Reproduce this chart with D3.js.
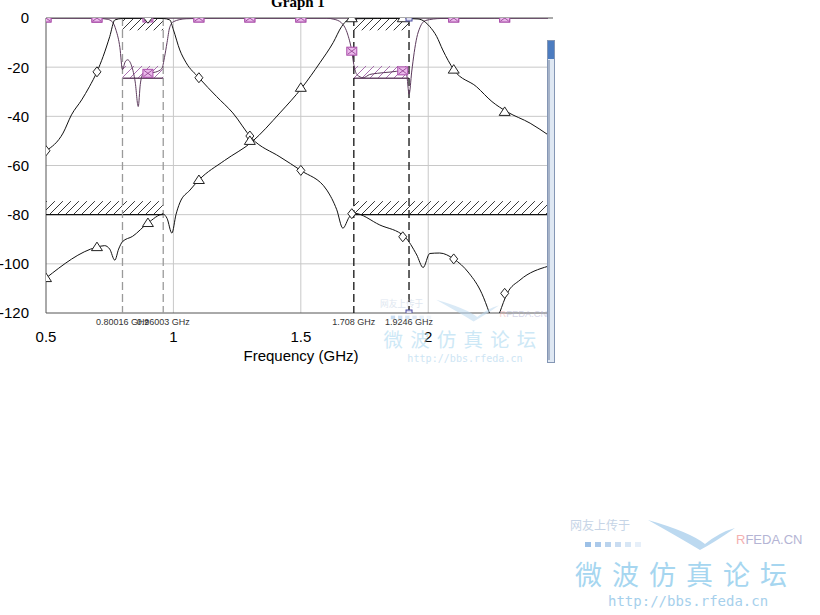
<!DOCTYPE html>
<html><head><meta charset="utf-8">
<script src="https://cdn.jsdelivr.net/npm/d3@7"></script>
<style>body{margin:0;background:#fff;}svg{display:block;}</style>
</head><body>
<svg id="c" width="820" height="615"></svg>
<script>
// ---------- DATA ----------
const xTicks = [0.5, 1, 1.5, 2];
const xTickLabels = ["0.5", "1", "1.5", "2"];
const yTicks = [0, -20, -40, -60, -80, -100, -120];
const yTickLabels = ["0", "-20", "-40", "-60", "-80", "-100", "-120"];

// S21 filter 1 (diamonds)
const s21aFreq = [0.5,0.567,0.6,0.64,0.67,0.7,0.724,0.75,0.77,0.8,0.88,0.96,0.986,1.0,1.025,1.05,1.1,1.17,1.233,1.308,1.418,1.5,1.602,1.641,1.665,1.69,1.708,1.81,1.908,1.955,1.98,2.006,2.045,2.1,2.16,2.21,2.24,2.26,2.28,2.31,2.36,2.47];
const s21aDb   = [-54,-46.8,-39.4,-33.3,-28,-21.9,-15.7,-7.6,-0.8,-0.2,-0.1,-0.2,-0.8,-4.8,-13,-18.2,-24.3,-32,-38.6,-49,-56.5,-62,-70,-78,-85.5,-81,-79.4,-84.2,-89,-96.4,-101.5,-95.8,-95.6,-98,-103.8,-112,-120,-126,-120,-112,-106.6,-101];
// S21 filter 2 (triangles)
const s21bFreq = [0.5,0.7,0.73,0.75,0.77,0.785,0.8,0.84,0.9,0.96,0.975,0.994,1.01,1.025,1.065,1.1,1.2,1.308,1.418,1.504,1.575,1.627,1.66,1.685,1.71,1.8,1.9,1.96,1.975,2.006,2.033,2.057,2.1,2.19,2.25,2.31,2.4,2.47];
const s21bDb   = [-105.8,-93.2,-92.6,-94,-98.5,-94,-91,-88.8,-83.4,-79.8,-81.5,-87.5,-80,-75.2,-70,-65.9,-58,-50.4,-38.6,-28.4,-18.2,-10,-3.5,-0.8,-0.3,-0.2,-0.2,-0.4,-0.8,-3.5,-7.5,-13,-21,-28,-34,-38.2,-42.8,-47.5];
// S11 filter 1
const s11aFreq = [0.5,0.7,0.74,0.76,0.775,0.79,0.8,0.81,0.82,0.836,0.85,0.862,0.87,0.88,0.9,0.93,0.955,0.965,0.975,0.985,1.0,1.05,1.2,2.47];
const s11aDb   = [0,-0.1,-0.5,-1.5,-5,-12,-21,-18,-17,-19.5,-26,-36,-27,-23,-22.5,-22,-20.5,-16,-10,-4,-1.5,-0.3,0,0];
// S11 filter 2
const s11bFreq = [0.5,1.6,1.63,1.66,1.685,1.7,1.708,1.72,1.745,1.77,1.8,1.85,1.9,1.915,1.925,1.935,1.945,1.955,1.967,1.99,2.05,2.47];
const s11bDb   = [0,-0.1,-0.5,-2,-7,-13.5,-19,-23,-24.3,-23,-22.5,-22,-21.5,-23,-31,-22,-14,-8,-4,-1,-0.2,0];

// markers
const markerFreq   = [0.5,0.7,0.9,1.1,1.3,1.5,1.7,1.9,2.1,2.3];
const s21aMarkerDb = [-54,-21.9,-0.1,-24.3,-48,-62,-79.6,-89,-98,-112];
const s21bMarkerDb = [-105.8,-93.2,-83.4,-65.9,-50,-28.4,-0.1,-0.1,-21,-38.2];
const s11aMarkerDb = [0,-0.1,-22.5,0,0,0,null,null,0,0];
const s11bMarkerDb = [0,0,0,0,0,0,-13.5,-21.5,0,0];

// frequency markers (dashed lines)
const fMarkFreq  = [0.80016, 0.96003, 1.708, 1.9246];
const fMarkLabel = ["0.80016 GHz", "0.96003 GHz", "1.708 GHz", "1.9246 GHz"];

// goal boxes: freq start, freq end, edge dB, far dB
const goalF0   = [0.80016, 0.80016, 1.708, 1.708, 0.5, 1.708];
const goalF1   = [0.96003, 0.96003, 1.9246, 1.9246, 0.96003, 2.47];
const goalEdge = [0, -24.5, 0, -24.5, -80, -80];
const goalFar  = [-5, -19.5, -5, -19.5, -74.5, -74.5];
const goalKind = ["s21", "s11", "s21", "s11", "s21", "s21"];

// ---------- CHART ----------
const svg = d3.select("#c");
const L = 46, R = 548, T = 18, B = 313;
const x = d3.scaleLinear().domain([0.5, 2.47]).range([L, R]);
const y = d3.scaleLinear().domain([-120, 0]).range([B, T]);

const defs = svg.append("defs");
defs.append("clipPath").attr("id", "plot").append("rect")
  .attr("x", L).attr("y", T).attr("width", R - L).attr("height", B - T);
function hatch(id, color) {
  defs.append("pattern").attr("id", id).attr("patternUnits", "userSpaceOnUse")
    .attr("width", 8).attr("height", 8)
    .append("path").attr("d", "M-2,2 L2,-2 M0,8 L8,0 M6,10 L10,6")
    .attr("stroke", color).attr("stroke-width", 0.9);
}
hatch("h21", "#222");
hatch("h11", "#a060a8");

// grid
svg.append("g").selectAll("line").data(yTicks.filter(d => d !== 0 && d !== -120)).join("line")
  .attr("x1", L).attr("x2", R).attr("y1", d => y(d)).attr("y2", d => y(d))
  .attr("stroke", "#c8c8c8").attr("stroke-width", 1);
svg.append("g").selectAll("line").data(xTicks.filter(d => d !== 0.5)).join("line")
  .attr("x1", d => x(d)).attr("x2", d => x(d)).attr("y1", T).attr("y2", B)
  .attr("stroke", "#c8c8c8").attr("stroke-width", 1);

// frame
svg.append("line").attr("x1", L).attr("x2", 553).attr("y1", y(0)).attr("y2", y(0)).attr("stroke", "#555");
svg.append("line").attr("x1", L).attr("x2", L).attr("y1", T).attr("y2", B).attr("stroke", "#555");
svg.append("line").attr("x1", L).attr("x2", R).attr("y1", B).attr("y2", B).attr("stroke", "#555");

const plot = svg.append("g").attr("clip-path", "url(#plot)");

// goal boxes
goalF0.forEach((f0, i) => {
  const top = Math.max(goalEdge[i], goalFar[i]), bot = Math.min(goalEdge[i], goalFar[i]);
  plot.append("rect").attr("x", x(f0)).attr("width", x(goalF1[i]) - x(f0))
    .attr("y", y(top)).attr("height", y(bot) - y(top))
    .attr("fill", goalKind[i] === "s11" ? "url(#h11)" : "url(#h21)");
  plot.append("line").attr("x1", x(f0)).attr("x2", x(goalF1[i]))
    .attr("y1", y(goalEdge[i])).attr("y2", y(goalEdge[i]))
    .attr("stroke", goalKind[i] === "s11" ? "#6a4a6a" : (goalEdge[i] === 0 ? "#22224a" : "#111"))
    .attr("stroke-width", 1.3);
});

// dashed frequency markers
plot.selectAll(".fm").data(fMarkFreq).join("line")
  .attr("x1", d => x(d)).attr("x2", d => x(d)).attr("y1", y(0)).attr("y2", y(-120))
  .attr("stroke", (d, i) => i < 2 ? "#9a9a9a" : "#111")
  .attr("stroke-width", 1.3).attr("stroke-dasharray", "8,4");

// traces
const line = d3.line().x(d => x(d[0])).y(d => y(d[1])).curve(d3.curveMonotoneX);
const zip = (a, b) => a.map((v, i) => [v, b[i]]);
plot.append("path").attr("d", line(zip(s11aFreq, s11aDb))).attr("fill", "none").attr("stroke", "#5c3a5c").attr("stroke-width", 1);
plot.append("path").attr("d", line(zip(s11bFreq, s11bDb))).attr("fill", "none").attr("stroke", "#5c3a5c").attr("stroke-width", 1);
plot.append("path").attr("d", line(zip(s21aFreq, s21aDb))).attr("fill", "none").attr("stroke", "#111").attr("stroke-width", 1);
plot.append("path").attr("d", line(zip(s21bFreq, s21bDb))).attr("fill", "none").attr("stroke", "#111").attr("stroke-width", 1);

// markers
function sqMarkers(vals) {
  const g = plot.append("g");
  markerFreq.forEach((f, i) => {
    if (vals[i] === null) return;
    const m = g.append("g").attr("transform", `translate(${x(f)},${y(vals[i])})`);
    m.append("rect").attr("x", -5).attr("y", -4).attr("width", 10).attr("height", 8)
      .attr("fill", "#eab8ea").attr("stroke", "#a84aa8").attr("stroke-width", 1);
    m.append("path").attr("d", "M-4,-3 L4,3 M-4,3 L4,-3").attr("stroke", "#8a3a8a").attr("stroke-width", 0.8);
  });
}
sqMarkers(s11aMarkerDb);
sqMarkers(s11bMarkerDb);
plot.append("g").selectAll("path").data(markerFreq).join("path")
  .attr("transform", (d, i) => `translate(${x(d)},${y(s21aMarkerDb[i])})`)
  .attr("d", "M0,-5 L4,0 L0,5 L-4,0 Z").attr("fill", "#fff").attr("stroke", "#222").attr("stroke-width", 1);
plot.append("g").selectAll("path").data(markerFreq).join("path")
  .attr("transform", (d, i) => `translate(${x(d)},${y(s21bMarkerDb[i])})`)
  .attr("d", "M0,-5 L5.5,3.5 L-5.5,3.5 Z").attr("fill", "#fff").attr("stroke", "#222").attr("stroke-width", 1);
// small marker squares at last frequency marker
[0, -120].forEach(v => {
  plot.append("rect").attr("x", x(fMarkFreq[3]) - 3).attr("y", y(v) - 3).attr("width", 6).attr("height", 6)
    .attr("fill", "#dde").attr("stroke", "#4a4aa0").attr("stroke-width", 1);
});

// axis labels
svg.append("g").selectAll("text").data(yTicks).join("text")
  .attr("x", 29).attr("y", d => y(d)).attr("dy", "0.36em").attr("text-anchor", "end")
  .attr("font-family", "Arial, 'Liberation Sans', sans-serif").attr("font-size", 15).attr("fill", "#000")
  .text((d, i) => yTickLabels[i]);
svg.append("g").selectAll("text").data(xTicks).join("text")
  .attr("x", d => x(d)).attr("y", 342).attr("text-anchor", "middle")
  .attr("font-family", "Arial, 'Liberation Sans', sans-serif").attr("font-size", 15).attr("fill", "#000")
  .text((d, i) => xTickLabels[i]);
svg.append("text").attr("x", 301).attr("y", 361).attr("text-anchor", "middle")
  .attr("font-family", "Arial, 'Liberation Sans', sans-serif").attr("font-size", 15).text("Frequency (GHz)");
svg.append("text").attr("x", 298).attr("y", 7).attr("text-anchor", "middle")
  .attr("font-family", "'Times New Roman', 'Liberation Serif', serif").attr("font-weight", "bold")
  .attr("font-size", 15).text("Graph 1");
svg.append("g").selectAll("text").data(fMarkFreq).join("text")
  .attr("x", d => x(d)).attr("y", 325).attr("text-anchor", "middle")
  .attr("font-family", "Arial, 'Liberation Sans', sans-serif").attr("font-size", 9).attr("fill", "#333")
  .text((d, i) => fMarkLabel[i]);

// scrollbar-like window edge
svg.append("rect").attr("x", 547.5).attr("y", 40.5).attr("width", 7).attr("height", 322)
  .attr("fill", "#dfe8f3").attr("stroke", "#8496b4");
svg.append("rect").attr("x", 548).attr("y", 41).attr("width", 6).attr("height", 18).attr("fill", "#4c7cc0");
svg.append("line").attr("x1", 549).attr("x2", 549).attr("y1", 60).attr("y2", 360).attr("stroke", "#6d7f9f");

// watermarks
function watermark(g, s) {
  g.append("text").attr("x", 0).attr("y", 0).attr("font-family", "'Noto Sans CJK SC', sans-serif")
    .attr("font-size", 12 * s).attr("fill", "#c6d4e6").text("网友上传于");
  g.selectAll(".sq").data([0, 1, 2, 3, 4, 5]).join("rect")
    .attr("x", d => (15 + d * 10) * s).attr("y", 12 * s).attr("width", 6 * s).attr("height", 5 * s)
    .attr("fill", "#9cc0e6").attr("opacity", d => 1 - d * 0.15);
  g.append("path").attr("d", `M${78*s},${-10*s} Q${120*s},${2*s} ${135*s},${14*s} Q${150*s},${2*s} ${165*s},${-2*s} Q${145*s},${12*s} ${130*s},${20*s} Q${110*s},${8*s} ${78*s},${-10*s} Z`)
    .attr("fill", "#bcd9f0");
  const t = g.append("text").attr("x", 166 * s).attr("y", 14 * s).attr("font-family", "Arial, sans-serif").attr("font-size", 13 * s);
  t.append("tspan").attr("fill", "#f4b0b0").text("R");
  t.append("tspan").attr("fill", "#b4b4d4").text("FEDA.CN");
  g.append("text").attr("x", 5 * s).attr("y", 55 * s).attr("font-family", "'Noto Sans CJK SC', sans-serif")
    .attr("font-size", 27 * s).attr("letter-spacing", 10 * s).attr("fill", "#a6d6f0").text("微波仿真论坛");
  g.append("text").attr("x", 38 * s).attr("y", 76 * s).attr("font-family", "'DejaVu Sans Mono', monospace")
    .attr("font-size", 14 * s).attr("fill", "#a6d0ec").text("http://bbs.rfeda.cn");
}
watermark(svg.append("g").attr("transform", "translate(570,530)"), 1);
watermark(svg.append("g").attr("transform", "translate(380,307)").attr("opacity", 0.55), 0.72);
</script>
</body></html>
